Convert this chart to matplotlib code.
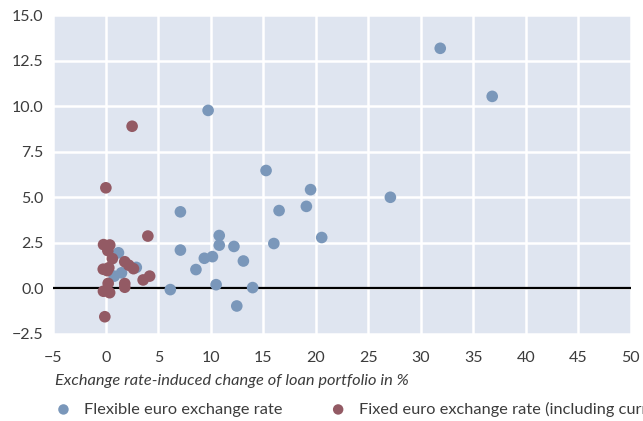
import matplotlib
matplotlib.use("Agg")
import matplotlib.pyplot as plt

flex_x = [31.85, 36.8, 27.1, 9.74, 15.26, 19.5, 19.1, 16.5, 7.1, 20.56, 16.0, 10.8, 10.8,
          12.2, 7.1, 9.38, 10.15, 13.1, 8.58, 6.14, 10.5, 12.47, 13.98, 1.2, 2.9, 0.8, 1.49]
flex_y = [13.18, 10.54, 5.0, 9.77, 6.47, 5.42, 4.5, 4.27, 4.2, 2.79, 2.46, 2.9, 2.37,
          2.3, 2.1, 1.65, 1.74, 1.5, 1.03, -0.07, 0.2, -0.97, 0.04, 1.95, 1.15, 0.67, 0.85]

fixed_x = [0.0, 2.5, 4.0, -0.1, -0.22, 0.37, 0.19, 0.62, 1.8, 2.18, 2.63, -0.25, 0.28, 0.13,
           3.55, 4.17, 1.8, 1.8, 0.22, -0.23, 0.36]
fixed_y = [5.52, 8.9, 2.87, -1.56, 2.4, 2.38, 2.07, 1.63, 1.46, 1.27, 1.08, 1.05, 1.13, 0.97,
           0.46, 0.67, 0.26, 0.06, 0.27, -0.16, -0.24]

series_names = ["Flexible euro exchange rate",
                "Fixed euro exchange rate (including currency board)"]
x_label = "Exchange rate-induced change of loan portfolio in %"
x_ticks = [-5, 0, 5, 10, 15, 20, 25, 30, 35, 40, 45, 50]
y_ticks = [-2.5, 0.0, 2.5, 5.0, 7.5, 10.0, 12.5, 15.0]

plt.rcParams['font.family'] = ['Lato', 'DejaVu Sans']

blue = "#7a97ba"
red = "#935a64"
text_col = "#3c3c3c"

fig = plt.figure(figsize=(6.43, 4.21), dpi=100)
ax = fig.add_axes([0.083, 0.207, 0.898, 0.757])
ax.set_facecolor("#dfe5f0")
for s in ax.spines.values():
    s.set_visible(False)
ax.grid(True, color="white", linewidth=1.8)
ax.set_axisbelow(True)

ax.axhline(0, color="black", linewidth=1.6, zorder=1.5)

h1 = ax.scatter(flex_x, flex_y, s=70, color=blue, edgecolors="none", zorder=3,
                label=series_names[0])
h2 = ax.scatter(fixed_x, fixed_y, s=70, color=red, edgecolors="none", zorder=3,
                label=series_names[1])

ax.set_xlim(-5, 50)
ax.set_ylim(-2.5, 15)
ax.set_xticks(x_ticks)
ax.set_yticks(y_ticks)
ax.set_xticklabels([f"{v}".replace("-", "\u2212") for v in x_ticks])
ax.set_yticklabels([f"{v:.1f}".replace("-", "\u2212") for v in y_ticks])
ax.tick_params(length=0, labelsize=11.5, colors=text_col)
ax.tick_params(axis="x", pad=12)
ax.tick_params(axis="y", pad=7)

fig.text(0.085, 0.095, x_label, fontsize=11.8, style="italic", color=text_col,
         ha="left", va="center")

leg = fig.legend(handles=[h1, h2], labels=series_names, loc="center left",
                 bbox_to_anchor=(0.063, 0.028), ncol=2, frameon=False,
                 fontsize=11.8, handletextpad=0.25, columnspacing=2.4,
                 markerscale=0.9, borderaxespad=0)
for t in leg.get_texts():
    t.set_color(text_col)

fig.savefig("out.png", dpi=100)
